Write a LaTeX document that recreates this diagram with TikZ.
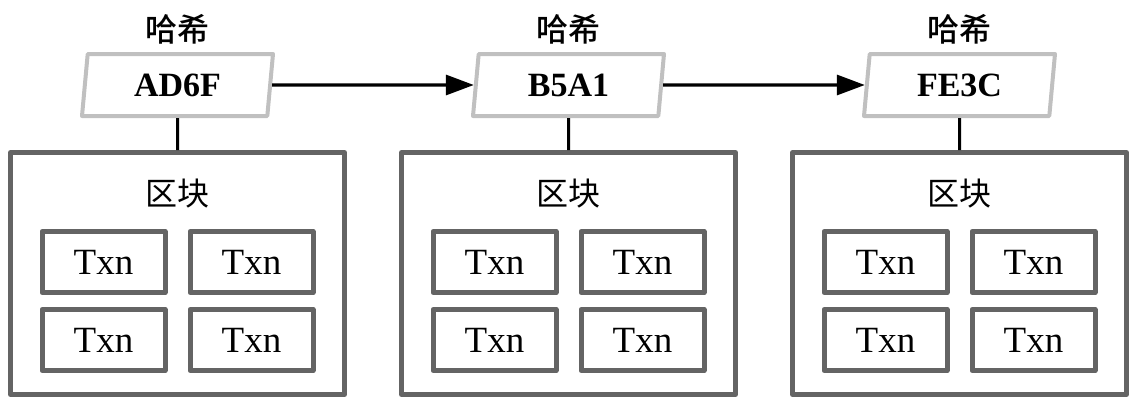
\documentclass[tikz,border=0pt]{standalone}
\usepackage{fontspec}
\setmainfont{Liberation Serif}
\newfontfamily\cjk{Noto Sans CJK SC}
\newfontfamily\cjkmed{Noto Sans CJK SC Medium}
\usetikzlibrary{shapes.geometric,arrows.meta,positioning}
\definecolor{blockGray}{RGB}{100,100,100}
\definecolor{hashGray}{RGB}{192,192,192}

\begin{document}
\begin{tikzpicture}[x=0.5pt,y=-0.5pt,
    chainBlock/.style={rectangle,draw=blockGray,line width=2.5pt,line join=round,minimum width=167pt,minimum height=121pt,inner sep=0pt},
    chainTxn/.style={rectangle,draw=blockGray,line width=2.5pt,line join=round,minimum width=61.5pt,minimum height=30.5pt,inner sep=0pt,font=\fontsize{18.5}{20}\selectfont},
    chainHash/.style={trapezium,trapezium left angle=76,trapezium right angle=104,trapezium stretches body,draw=hashGray,fill=white,line width=2pt,line join=round,minimum width=95.5pt,minimum height=31pt,inner sep=0pt,font=\fontsize{17}{20}\selectfont\bfseries},
    chainLabel/.style={font=\cjk\fontsize{16}{18}\selectfont},
    chainLink/.style={line width=1.5pt},
    chainArrow/.style={-{Triangle[length=14pt,width=10pt]},line width=1.6pt},
]
\useasboundingbox (0,0) rectangle (1135,402);
\foreach \i/\xc/\hv in {1/177.5/AD6F,2/568.5/B5A1,3/959.5/FE3C} {
  \node[chainBlock] (block\i) at (\xc,273.5) {};
  \node[chainLabel] (blockName\i) at (\xc,194) {区块};
  \node[chainTxn] (txnA\i) at (\xc-74,262) {Txn};
  \node[chainTxn] (txnB\i) at (\xc+74,262) {Txn};
  \node[chainTxn] (txnC\i) at (\xc-74,340) {Txn};
  \node[chainTxn] (txnD\i) at (\xc+74,340) {Txn};
  \node[chainHash] (hash\i) at (\xc,85) {\hv};
  \node[chainLabel,font=\cjkmed\fontsize{16}{18}\selectfont] (hashName\i) at (\xc,29) {哈希};
  \draw[chainLink] (hash\i.south) -- (block\i.north);
}
\draw[chainArrow] (hash1.east) -- (hash2.west);
\draw[chainArrow] (hash2.east) -- (hash3.west);
\end{tikzpicture}
\end{document}
